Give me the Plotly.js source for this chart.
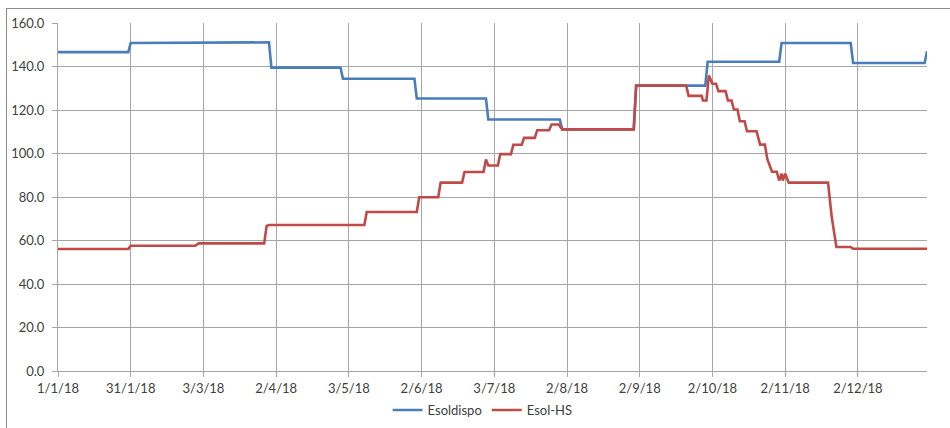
<!DOCTYPE html>
<html>
<head>
<meta charset="utf-8">
<script src="https://cdn.plot.ly/plotly-3.0.1.min.js"></script>
<style>
  html, body { margin: 0; padding: 0; background: #ffffff; }
  #wrap { position: relative; width: 950px; height: 428px; overflow: hidden; }
  #chart { position: absolute; left: 0; top: 0; width: 950px; height: 428px; }
  #frame { position: absolute; left: 6px; top: 8px; width: 960px; height: 440px;
           border-left: 1px solid #8a8a8a; border-top: 1px solid #8a8a8a;
           pointer-events: none; z-index: 10; }
</style>
</head>
<body>
<div id="wrap">
  <div id="chart"></div>
  <div id="frame"></div>
</div>
<script>
// ---- data ----
const esoldispoDates = [
  '2018-01-01 00:00','2018-01-30 12:00','2018-01-31 12:00','2018-02-28 00:00','2018-02-28 12:00',
  '2018-03-30 12:00','2018-03-31 12:00','2018-04-29 12:00','2018-04-30 12:00','2018-05-30 12:00',
  '2018-05-31 12:00','2018-06-29 12:00','2018-06-30 12:00','2018-07-30 12:00','2018-07-31 12:00',
  '2018-08-30 12:00','2018-08-31 12:00','2018-09-29 12:00','2018-09-30 12:00','2018-10-30 12:00',
  '2018-10-31 12:00','2018-11-29 12:00','2018-11-30 12:00','2018-12-30 12:00','2018-12-31 12:00'
];
const esoldispoValues = [
  146.6, 146.6, 150.8, 150.8, 151.1,
  151.1, 139.5, 139.5, 134.4, 134.4,
  125.3, 125.3, 115.6, 115.6, 111.1,
  111.1, 131.2, 131.2, 142.2, 142.2,
  150.8, 150.8, 141.6, 141.6, 147.0
];

const esolHSDates = [
  '2018-01-01 00:00','2018-01-30 12:00','2018-01-31 12:00','2018-02-27 12:00','2018-03-01 00:00',
  '2018-03-28 12:00','2018-03-29 12:00','2018-03-30 12:00','2018-05-09 12:00','2018-05-10 12:00',
  '2018-05-31 12:00','2018-06-01 12:00','2018-06-09 12:00','2018-06-10 12:00','2018-06-19 12:00',
  '2018-06-20 12:00','2018-06-28 12:00','2018-06-29 12:00','2018-06-30 12:00','2018-07-04 12:00',
  '2018-07-05 12:00','2018-07-10 00:00','2018-07-11 00:00','2018-07-14 12:00','2018-07-15 12:00',
  '2018-07-20 00:00','2018-07-21 00:00','2018-07-26 00:00','2018-07-27 00:00','2018-07-30 00:00',
  '2018-07-31 12:00','2018-08-30 12:00','2018-08-31 12:00','2018-09-21 12:00','2018-09-22 12:00',
  '2018-09-28 00:00','2018-09-28 12:00','2018-09-30 00:00','2018-10-01 00:00','2018-10-02 12:00',
  '2018-10-04 00:00','2018-10-05 00:00','2018-10-08 00:00','2018-10-09 00:00','2018-10-10 12:00',
  '2018-10-11 12:00','2018-10-13 00:00','2018-10-14 00:00','2018-10-16 00:00','2018-10-17 00:00',
  '2018-10-21 00:00','2018-10-22 12:00','2018-10-24 12:00','2018-10-25 12:00','2018-10-27 12:00',
  '2018-10-29 12:00','2018-10-30 12:00','2018-10-31 12:00','2018-11-01 00:00','2018-11-02 00:00',
  '2018-11-03 12:00','2018-11-20 00:00','2018-11-21 12:00','2018-11-23 12:00','2018-11-29 12:00',
  '2018-11-30 12:00','2018-12-31 12:00'
];
const esolHSValues = [
  56.1, 56.1, 57.6, 57.6, 58.7,
  58.7, 66.7, 67.1, 67.1, 73.1,
  73.1, 79.9, 79.9, 86.6, 86.6,
  91.5, 91.5, 97.2, 94.5, 94.5,
  99.7, 99.7, 104.0, 104.0, 107.2,
  107.2, 110.7, 110.7, 113.3, 113.3,
  111.1, 111.1, 131.2, 131.2, 126.5,
  126.5, 124.4, 124.4, 135.8, 132.1,
  132.1, 128.7, 128.7, 124.4, 124.4,
  120.2, 120.2, 114.8, 114.8, 110.2,
  110.2, 104.1, 104.1, 97.5, 91.6,
  91.6, 87.6, 90.7, 87.6, 90.7,
  86.6, 86.6, 71.1, 57.0, 57.0,
  56.2, 56.2
];

const xTickVals = [
  '2018-01-01 00:00','2018-01-31 12:00','2018-03-03 00:00','2018-04-02 12:00',
  '2018-05-03 00:00','2018-06-02 12:00','2018-07-03 00:00','2018-08-02 12:00',
  '2018-09-02 00:00','2018-10-02 12:00','2018-11-02 00:00','2018-12-02 12:00'
];
const xTickText = [
  '1/1/18','31/1/18','3/3/18','2/4/18','3/5/18','2/6/18',
  '3/7/18','2/8/18','2/9/18','2/10/18','2/11/18','2/12/18'
];
const seriesNames = ['Esoldispo', 'Esol-HS'];

// ---- chart ----
const gridCol = '#a6a6a6';
const textCol = '#404040';
const fontFam = 'Lato, "Open Sans", sans-serif';

const traces = [
  {
    x: esoldispoDates, y: esoldispoValues, name: seriesNames[0],
    type: 'scatter', mode: 'lines',
    line: { color: '#4a7ebb', width: 2.6 }
  },
  {
    x: esolHSDates, y: esolHSValues, name: seriesNames[1],
    type: 'scatter', mode: 'lines',
    line: { color: '#be4b48', width: 2.6 }
  }
];

const layout = {
  width: 950, height: 428,
  margin: { l: 58, r: 23, t: 23, b: 57, autoexpand: false },
  paper_bgcolor: '#ffffff', plot_bgcolor: '#ffffff',
  font: { family: fontFam, size: 13, color: textCol },
  showlegend: true,
  legend: {
    orientation: 'h', xref: 'container', yref: 'container',
    x: 0.508, xanchor: 'center', y: 0.042, yanchor: 'middle',
    itemwidth: 30,
    font: { family: fontFam, size: 13, color: textCol },
    bgcolor: 'rgba(0,0,0,0)'
  },
  xaxis: {
    type: 'date',
    range: ['2018-01-01 00:00', '2018-12-31 12:00'],
    tickmode: 'array', tickvals: xTickVals, ticktext: xTickText,
    showgrid: true, gridcolor: gridCol, gridwidth: 1,
    showline: true, linecolor: gridCol, linewidth: 1,
    ticks: 'outside', ticklen: 5, tickcolor: gridCol,
    zeroline: false, fixedrange: true, automargin: false,
    tickfont: { family: fontFam, size: 13, color: textCol }
  },
  yaxis: {
    range: [0, 160], dtick: 20, tick0: 0, tickformat: '.1f',
    showgrid: true, gridcolor: gridCol, gridwidth: 1,
    showline: true, linecolor: gridCol, linewidth: 1,
    ticks: 'outside', ticklen: 5, tickcolor: gridCol,
    ticklabelstandoff: 5,
    zeroline: false, fixedrange: true, automargin: false,
    tickfont: { family: fontFam, size: 13, color: textCol }
  }
};

Plotly.newPlot('chart', traces, layout, { staticPlot: true, displayModeBar: false });
</script>
</body>
</html>
